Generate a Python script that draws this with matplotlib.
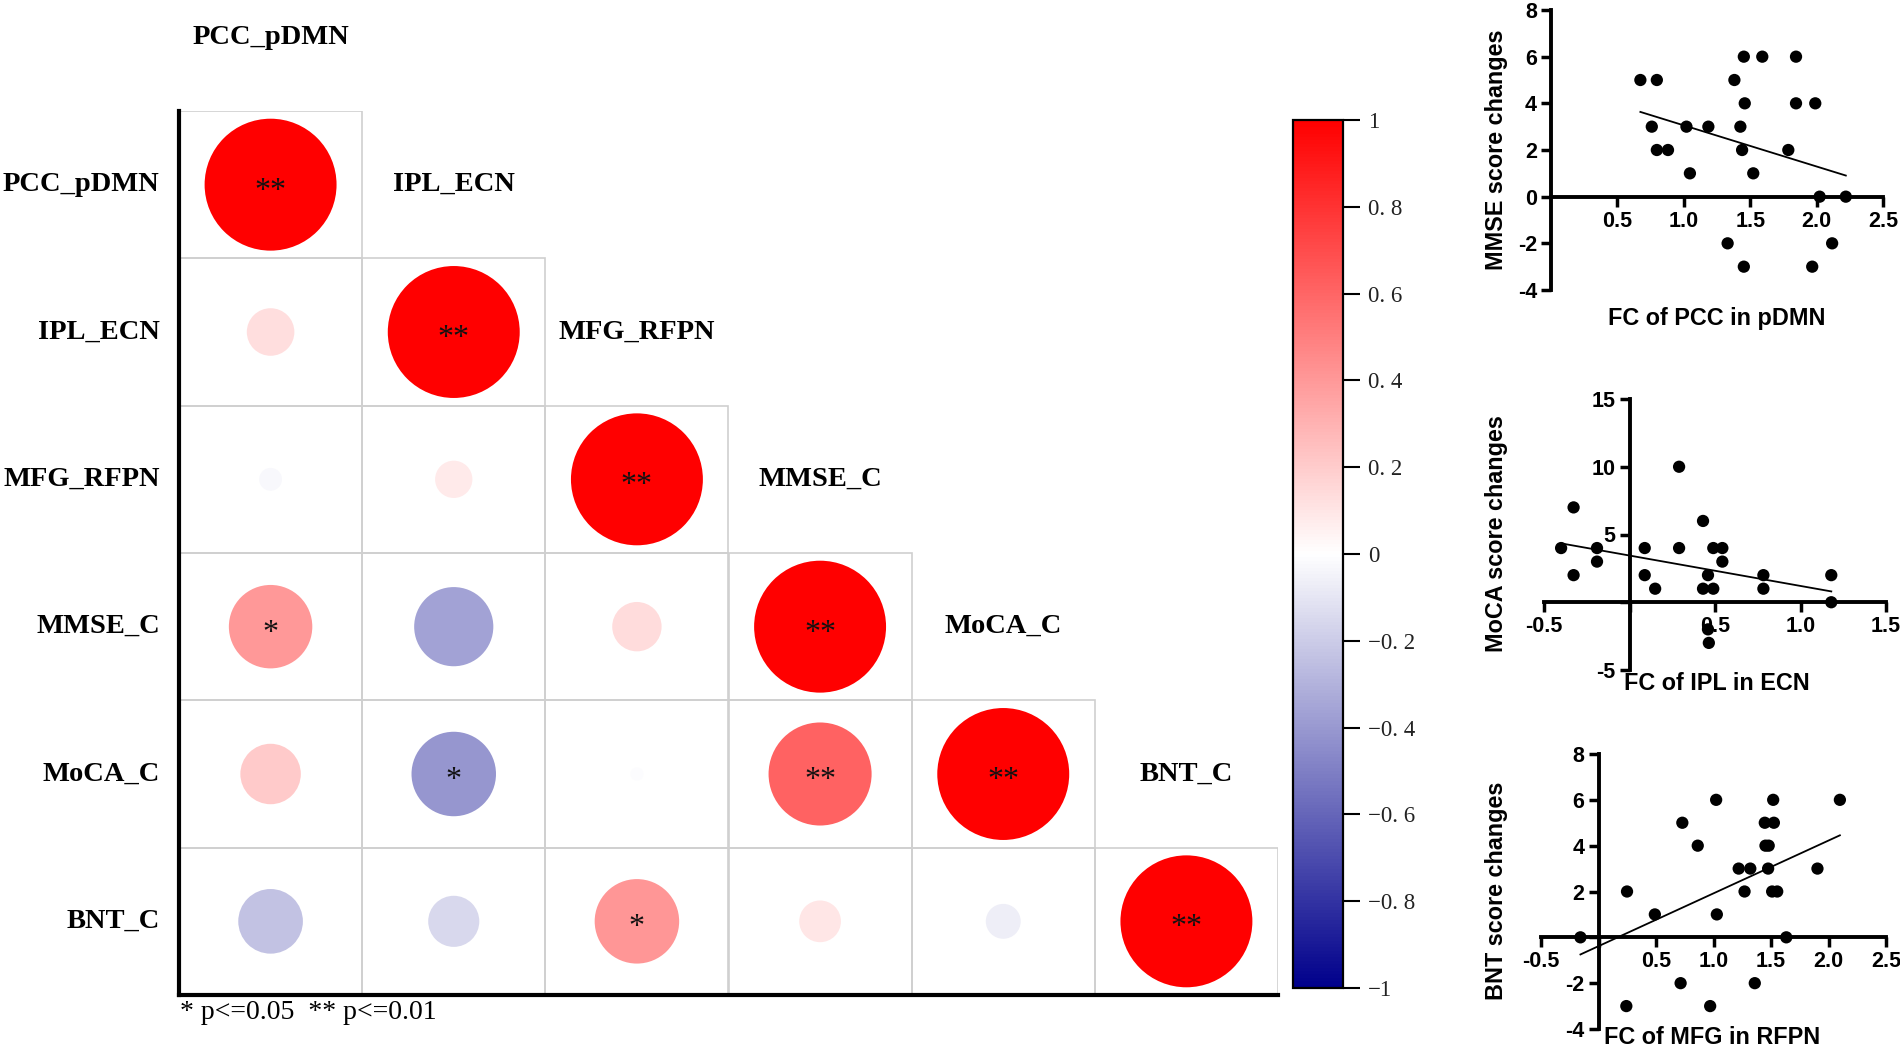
import numpy as np
import matplotlib
matplotlib.use('Agg')
import matplotlib.pyplot as plt
from matplotlib.colors import LinearSegmentedColormap, Normalize
from matplotlib.cm import ScalarMappable
from matplotlib.patches import Rectangle
import matplotlib.transforms as mtransforms

# ---------------- data ----------------
variables = ['PCC_pDMN', 'IPL_ECN', 'MFG_RFPN', 'MMSE_C', 'MoCA_C', 'BNT_C']

# lower triangle of the correlation matrix (row i, columns 0..i)
corr_rows = [
    [1.00],
    [0.13, 1.00],
    [-0.03, 0.08, 1.00],
    [0.40, -0.36, 0.14, 1.00],
    [0.21, -0.41, -0.01, 0.61, 1.00],
    [-0.24, -0.15, 0.41, 0.10, -0.07, 1.00],
]
sig_rows = [
    ['**'],
    ['', '**'],
    ['', '', '**'],
    ['*', '', '', '**'],
    ['', '*', '', '**', '**'],
    ['', '', '*', '', '', '**'],
]
cbar_ticks = [-1, -0.8, -0.6, -0.4, -0.2, 0, 0.2, 0.4, 0.6, 0.8, 1]
cbar_labels = ['\u22121', '\u22120. 8', '\u22120. 6', '\u22120. 4', '\u22120. 2', '0',
               '0. 2', '0. 4', '0. 6', '0. 8', '1']
legend_text = '* p<=0.05  ** p<=0.01'

# scatter 1: FC of PCC in pDMN vs MMSE
pcc_fc = [0.673, 0.797, 0.759, 0.797, 0.881, 1.020, 1.046, 1.185, 1.381, 1.452,
          1.591, 1.459, 1.426, 1.439, 1.523, 1.330, 1.452, 1.845, 1.845, 1.990,
          1.787, 2.023, 2.220, 2.117, 1.967]
mmse_chg = [5, 5, 3, 2, 2, 3, 1, 3, 5, 6,
            6, 4, 3, 2, 1, -2, -3, 6, 4, 4,
            2, 0, 0, -2, -3]

# scatter 2: FC of IPL in ECN vs MoCA
ipl_fc = [-0.40, -0.327, -0.327, -0.19, -0.19, 0.089, 0.089, 0.15, 0.29, 0.29,
          0.43, 0.43, 0.459, 0.49, 0.49, 0.543, 0.543, 0.783, 0.783, 1.18,
          1.18, 0.459, 0.464]
moca_chg = [4, 7, 2, 4, 3, 4, 2, 1, 10, 4,
            6, 1, 2, 1, 4, 4, 3, 2, 1, 2,
            0, -2, -3]

# scatter 3: FC of MFG in RFPN vs BNT
mfg_fc = [-0.157, 0.248, 0.242, 0.490, 0.729, 0.714, 0.863, 1.023, 1.029, 0.971,
          1.219, 1.320, 1.270, 1.359, 1.446, 1.525, 1.452, 1.480, 1.475, 1.519,
          1.510, 1.554, 1.633, 1.904, 2.099]
bnt_chg = [0, 2, -3, 1, 5, -2, 4, 6, 1, -3,
           3, 3, 2, -2, 5, 5, 4, 4, 3, 6,
           2, 2, 0, 3, 6]

# ---------------- figure ----------------
W, H = 1900, 1049
fig = plt.figure(figsize=(W / 100, H / 100), dpi=100)
fig.patch.set_facecolor('white')


def rect(left, top, right, bottom):
    return [left / W, 1 - bottom / H, (right - left) / W, (bottom - top) / H]


def fpos(x, y):
    return x / W, 1 - y / H


serif = 'Liberation Serif'
sans = 'Liberation Sans'

cmap = LinearSegmentedColormap.from_list('bwr_dark', ['#00008B', '#FFFFFF', '#FF0000'])
norm = Normalize(-1, 1)

# ---------- correlation plot ----------
ax = fig.add_axes(rect(179, 111, 1278, 995))
ax.set_xlim(0, 6)
ax.set_ylim(6, 0)
ax.set_xticks([])
ax.set_yticks([])
for s in ['top', 'right']:
    ax.spines[s].set_visible(False)
for s in ['left', 'bottom']:
    ax.spines[s].set_linewidth(3)
    ax.spines[s].set_color('black')
    ax.spines[s].set_zorder(5)

star_offset = mtransforms.offset_copy(ax.transData, fig=fig, x=0, y=-10, units='points')
full_area = 95.0 ** 2  # marker area (pt^2) for |r| = 1
for i, row in enumerate(corr_rows):
    for j, r in enumerate(row):
        ax.add_patch(Rectangle((j, i), 1, 1, fill=False, edgecolor='#CFCFCF',
                               linewidth=1.2, zorder=1))
        ax.scatter([j + 0.5], [i + 0.5], s=full_area * abs(r), color=cmap(norm(r)),
                   edgecolors='none', zorder=2)
        if sig_rows[i][j]:
            ax.text(j + 0.5, i + 0.5, sig_rows[i][j], ha='center', va='baseline',
                    fontsize=23, family=serif, color='#111111', zorder=3,
                    transform=star_offset)

for k, name in enumerate(variables):
    ax.text(-0.105, k + 0.5, name, ha='right', va='center', fontsize=20.5,
            fontweight='bold', family=serif, clip_on=False)
    ax.text(k + 0.5, k - 0.5, name, ha='center', va='center', fontsize=20.5,
            fontweight='bold', family=serif, clip_on=False)

fig.text(*fpos(180, 1000), legend_text, ha='left', va='top', fontsize=20, family=serif)

# ---------- colorbar ----------
cax = fig.add_axes(rect(1293, 120, 1343, 988))
cb = fig.colorbar(ScalarMappable(norm=norm, cmap=cmap), cax=cax, ticks=cbar_ticks)
cb.ax.set_yticklabels(cbar_labels)
cb.outline.set_linewidth(1.6)
cb.outline.set_edgecolor('black')
cax.tick_params(length=12, width=1.5, labelsize=16.5, pad=6, color='black')
for t in cax.get_yticklabels():
    t.set_family(serif)
    t.set_color('#222222')


# ---------- scatter panels ----------
def scatter_panel(box, x, y, xlim, ylim, xticks, xticklabels, yticks, yticklabels,
                  xlabel, xlabel_px, ylabel, ylabel_px):
    a = fig.add_axes(rect(*box))
    x = np.asarray(x, float)
    y = np.asarray(y, float)
    a.scatter(x, y, s=78, color='black', edgecolors='none', zorder=4, clip_on=False)
    slope, intercept = np.polyfit(x, y, 1)
    xs = np.array([x.min(), x.max()])
    a.plot(xs, slope * xs + intercept, color='black', linewidth=1.3, zorder=3)
    a.set_xlim(*xlim)
    a.set_ylim(*ylim)
    for s in ['top', 'right']:
        a.spines[s].set_visible(False)
    a.spines['left'].set_position(('data', 0))
    a.spines['bottom'].set_position(('data', 0))
    for s in ['left', 'bottom']:
        a.spines[s].set_linewidth(2.8)
    a.set_xticks(xticks)
    a.set_xticklabels(xticklabels)
    a.set_yticks(yticks)
    a.set_yticklabels(yticklabels)
    a.tick_params(direction='out', length=7, width=2.5, labelsize=15.5, pad=3)
    for t in a.get_xticklabels() + a.get_yticklabels():
        t.set_family(sans)
        t.set_fontweight('bold')
    a.patch.set_alpha(0)
    fig.text(*fpos(*xlabel_px), xlabel, ha='center', va='center', fontsize=16.8,
             fontweight='bold', family=sans)
    fig.text(*fpos(*ylabel_px), ylabel, ha='center', va='center', rotation=90,
             fontsize=16.8, fontweight='bold', family=sans)
    return a


scatter_panel((1551, 10, 1883, 290), pcc_fc, mmse_chg, (0, 2.5), (-4, 8),
              [0.5, 1.0, 1.5, 2.0, 2.5], ['0.5', '1.0', '1.5', '2.0', '2.5'],
              [-4, -2, 0, 2, 4, 6, 8], ['-4', '-2', '0', '2', '4', '6', '8'],
              'FC of PCC in pDMN', (1717, 318), 'MMSE score changes', (1497, 150))

scatter_panel((1544, 399, 1886, 670), ipl_fc, moca_chg, (-0.5, 1.5), (-5, 15),
              [-0.5, 0, 0.5, 1.0, 1.5], ['-0.5', '', '0.5', '1.0', '1.5'],
              [-5, 0, 5, 10, 15], ['-5', '', '5', '10', '15'],
              'FC of IPL in ECN', (1717, 684), 'MoCA score changes', (1497, 534))

scatter_panel((1541, 754, 1886, 1029), mfg_fc, bnt_chg, (-0.5, 2.5), (-4, 8),
              [-0.5, 0, 0.5, 1.0, 1.5, 2.0, 2.5], ['-0.5', '', '0.5', '1.0', '1.5', '2.0', '2.5'],
              [-4, -2, 0, 2, 4, 6, 8], ['-4', '-2', '', '2', '4', '6', '8'],
              'FC of MFG in RFPN', (1712, 1038), 'BNT score changes', (1497, 891))

fig.savefig('out.png', dpi=100, facecolor='white')
